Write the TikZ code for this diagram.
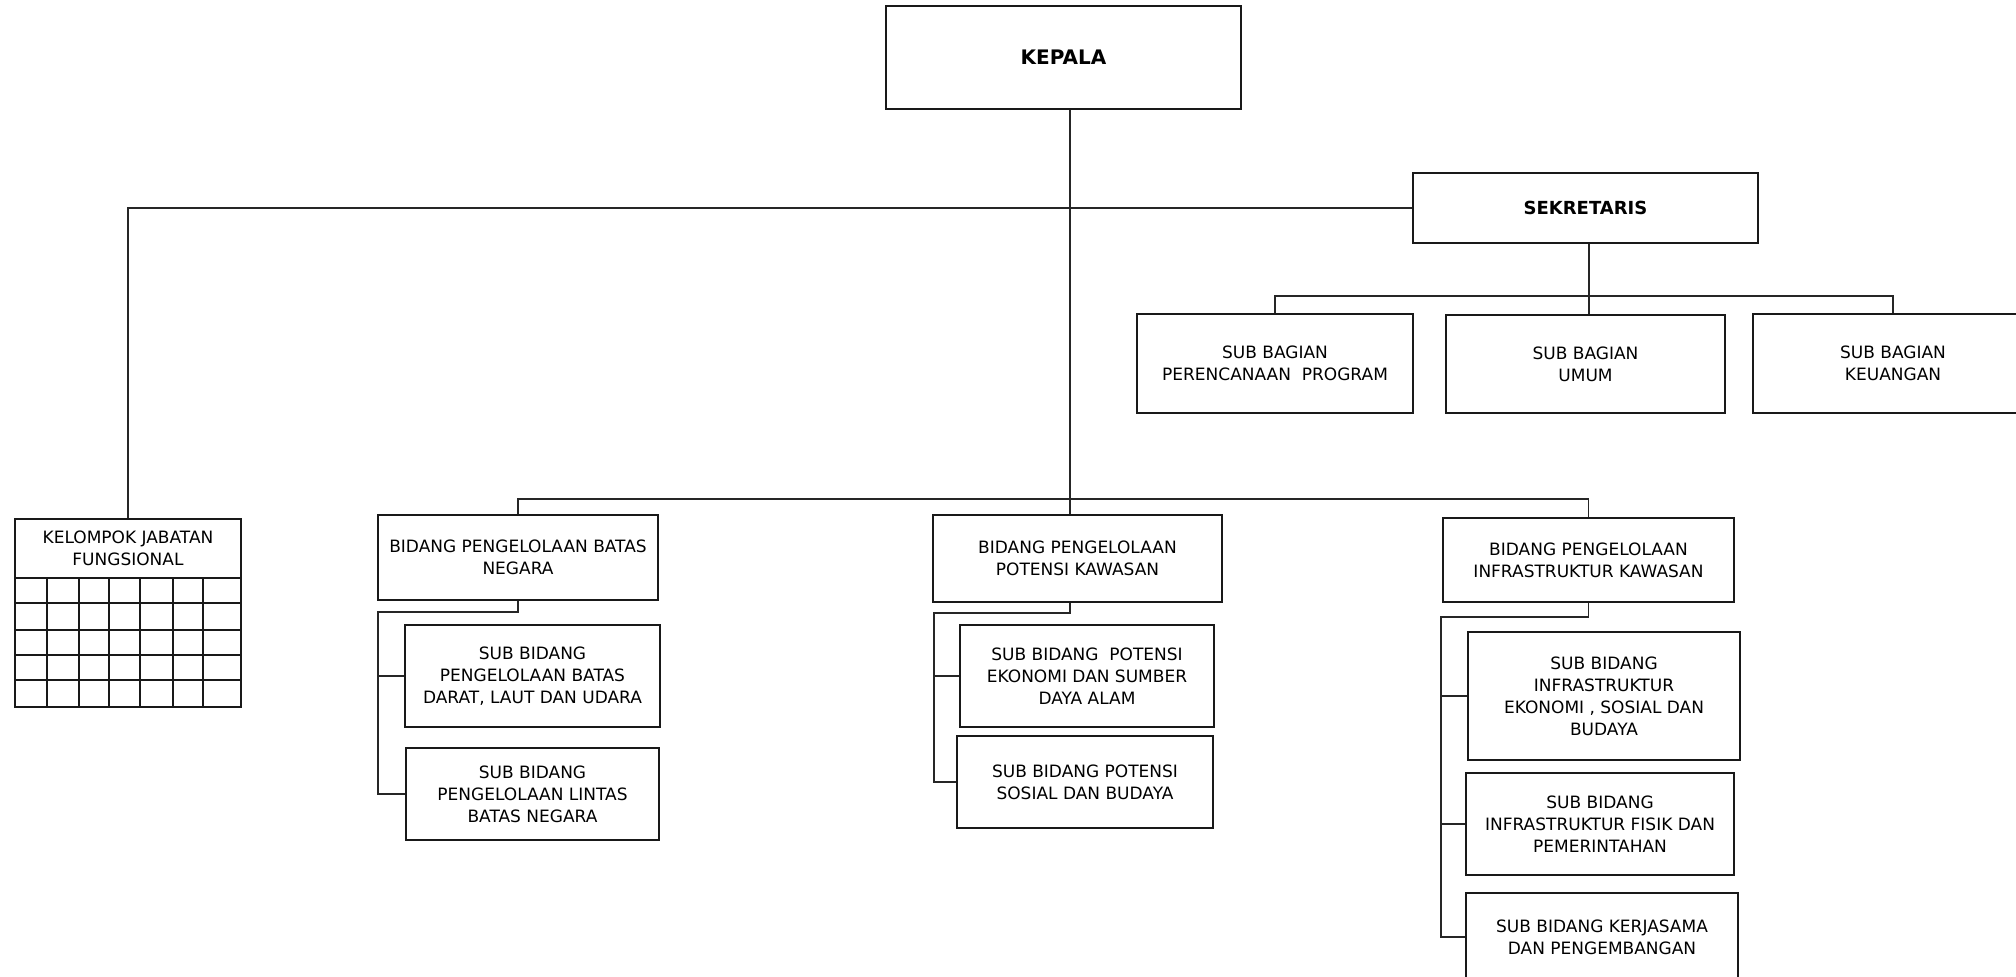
\documentclass[tikz,border=0pt]{standalone}
\usepackage{fontspec}
\setmainfont{DejaVu Sans}
\begin{document}
\begin{tikzpicture}[x=0.5pt,y=-0.5pt,
  box/.style={draw=black!90,line width=0.7pt,inner sep=1pt,align=center,
    font=\fontsize{8.5}{11}\selectfont},
  conn/.style={draw=black!85,line width=0.6pt},
  gridln/.style={draw=black!90,line width=0.7pt}]
\useasboundingbox (0,0) rectangle (2016,977);
\clip (0,0) rectangle (2016,977);
\newcommand\bx[6]{\node[box,minimum width={(#4-#2)*0.5pt},minimum height={(#5-#3)*0.5pt}] (#1) at ({(#2+#4)/2},{(#3+#5)/2}) {#6};}
% top level
\bx{kepala}{886}{6}{1241}{109}{\fontsize{10}{12}\selectfont\bfseries KEPALA}
\bx{sek}{1413}{173}{1758}{243}{\fontsize{9}{11}\selectfont\bfseries SEKRETARIS}
% sub bagian
\bx{perenc}{1137}{314}{1413}{413}{SUB BAGIAN\\PERENCANAAN~ PROGRAM}
\bx{umum}{1446}{315}{1725}{413}{SUB BAGIAN\\UMUM}
\bx{keu}{1753}{314}{2033}{413}{SUB BAGIAN\\KEUANGAN}
% kelompok jabatan fungsional
\bx{kjf}{15}{519}{241}{578}{KELOMPOK JABATAN\\FUNGSIONAL}
\draw[gridln] (15,578) rectangle (241,707);
\foreach \gx in {47,79,109,140,173,203} {\draw[gridln] (\gx,578) -- (\gx,707);}
\foreach \gy in {603,630,655,680} {\draw[gridln] (15,\gy) -- (241,\gy);}
% bidang
\bx{batas}{378}{515}{658}{600}{BIDANG PENGELOLAAN BATAS\\NEGARA}
\bx{potensi}{933}{515}{1222}{602}{BIDANG PENGELOLAAN\\POTENSI KAWASAN}
\bx{infra}{1443}{518}{1734}{602}{BIDANG PENGELOLAAN\\INFRASTRUKTUR KAWASAN}
% sub bidang
\bx{bs1}{405}{625}{660}{727}{SUB BIDANG\\PENGELOLAAN BATAS\\DARAT, LAUT DAN UDARA}
\bx{bs2}{406}{748}{659}{840}{SUB BIDANG\\PENGELOLAAN LINTAS\\BATAS NEGARA}
\bx{ps1}{960}{625}{1214}{727}{SUB BIDANG~ POTENSI\\EKONOMI DAN SUMBER\\DAYA ALAM}
\bx{ps2}{957}{736}{1213}{828}{SUB BIDANG POTENSI\\SOSIAL DAN BUDAYA}
\bx{is1}{1468}{632}{1740}{760}{SUB BIDANG\\INFRASTRUKTUR\\EKONOMI , SOSIAL DAN\\BUDAYA}
\bx{is2}{1466}{773}{1734}{875}{SUB BIDANG\\INFRASTRUKTUR FISIK DAN\\PEMERINTAHAN}
\bx{is3}{1466}{893}{1738}{981}{SUB BIDANG KERJASAMA\\DAN PENGEMBANGAN}
% connector coordinates
\coordinate (kx) at (1070,499);
\coordinate (sb) at (1589,296);
\coordinate (bl) at (378,612);
\coordinate (pl) at (934,613);
\coordinate (il) at (1441,617);
% connectors
\draw[conn] (kepala.south -| kx) -- (kx) -- (potensi.north -| kx);
\draw[conn] (kjf.north) |- (sek.west);
\draw[conn] (sek.south -| sb) -- (umum.north -| sb);
\draw[conn] (perenc.north) |- (sb) -| (keu.north);
\draw[conn] (batas.north) |- (kx) -| (infra.north);
\draw[conn] (batas.south) |- (bl) |- (bs2.west);
\draw[conn] (bl |- bs1.west) -- (bs1.west);
\draw[conn] (potensi.south -| kx) |- (pl) |- (ps2.west);
\draw[conn] (pl |- ps1.west) -- (ps1.west);
\draw[conn] (infra.south) |- (il) |- (is3.west);
\draw[conn] (il |- is1.west) -- (is1.west);
\draw[conn] (il |- is2.west) -- (is2.west);
\end{tikzpicture}
\end{document}
